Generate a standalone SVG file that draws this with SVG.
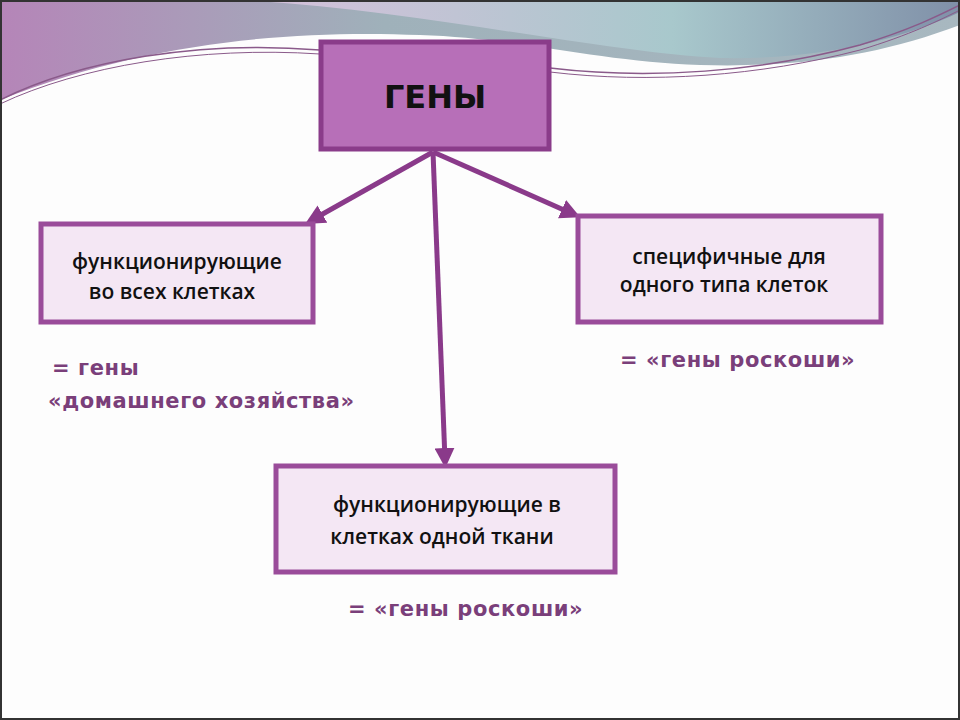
<svg xmlns="http://www.w3.org/2000/svg" width="960" height="720" viewBox="0 0 960 720">
<defs>
<linearGradient id="g1" x1="0" y1="0" x2="1" y2="0"><stop offset="0" stop-color="#b585b8"/><stop offset="0.4" stop-color="#9fb1ba"/><stop offset="1" stop-color="#a8b8c0"/></linearGradient>
<linearGradient id="g2" x1="0" y1="0" x2="1" y2="0"><stop offset="0" stop-color="#d8c0dc"/><stop offset="0.6" stop-color="#a8c8cc"/><stop offset="1" stop-color="#8090a8"/></linearGradient>
<marker id="ah" viewBox="0 0 10 10" refX="6" refY="5" markerWidth="4" markerHeight="4" orient="auto"><path d="M0,0 L10,5 L0,10 Z" fill="#8a3a8a"/></marker>
<style>
.box{fill:#f4e7f4;stroke:#9a4c9a;stroke-width:5}
.t{font-family:"Open Sans","DejaVu Sans",sans-serif;font-size:21px;font-weight:600;fill:#111}
.lbl{font-family:"DejaVu Sans",sans-serif;font-size:21px;font-weight:bold;fill:#7a3f7a;letter-spacing:0.6px}
.conn{stroke:#8a3a8a;stroke-width:5;fill:none;marker-end:url(#ah)}
</style>
</defs>
<rect width="960" height="720" fill="#fdfdfd"/>
<path d="M0,0 H960 V25 C880,55 800,68 700,65 C600,62 520,38 420,35 C300,30 150,40 0,100 Z" fill="url(#g1)"/>
<path d="M240,0 H960 V12 C900,40 820,60 720,58 C600,52 420,10 240,0 Z" fill="url(#g2)"/>
<path d="M0,100 C80,60 200,40 320,50 M550,68 C650,80 760,72 860,45 C910,30 940,15 960,5" stroke="#8a5a8a" stroke-width="1.5" fill="none"/>
<path d="M0,104 C80,66 200,46 320,54 M550,72 C650,84 760,76 860,50 C910,35 940,20 960,10" stroke="#8a5a8a" stroke-width="1" fill="none"/>
<rect x="1" y="1" width="958" height="718" fill="none" stroke="#333" stroke-width="2"/>
<g id="connectors">
<line class="conn" x1="433" y1="152" x2="312" y2="220"/>
<line class="conn" x1="433" y1="152" x2="573" y2="214"/>
<line class="conn" x1="433" y1="152" x2="445" y2="460"/>
</g>
<g id="n-genes">
<rect x="321" y="42" width="228" height="107" fill="#b76fb8" stroke="#8a3c8a" stroke-width="5"/>
<text x="435" y="108" text-anchor="middle" font-family="DejaVu Sans,sans-serif" font-size="32" font-weight="bold" fill="#111">ГЕНЫ</text>
</g>
<g id="n-left">
<rect class="box" x="41" y="224" width="272" height="98"/>
<text class="t" x="177" y="269" text-anchor="middle">функционирующие</text>
<text class="t" x="172" y="299" text-anchor="middle">во всех клетках</text>
</g>
<g id="n-right">
<rect class="box" x="578" y="216" width="303" height="106"/>
<text class="t" x="729" y="264" text-anchor="middle" font-size="19">специфичные для</text>
<text class="t" x="724" y="292" text-anchor="middle" font-size="19">одного типа клеток</text>
</g>
<g id="n-bottom">
<rect class="box" x="276" y="466" width="339" height="106"/>
<text class="t" x="447" y="512" text-anchor="middle">функционирующие в</text>
<text class="t" x="442" y="544" text-anchor="middle">клетках одной ткани</text>
</g>
<g id="labels">
<text class="lbl" x="52" y="375">= гены</text>
<text class="lbl" x="48" y="408">«домашнего хозяйства»</text>
<text class="lbl" x="620" y="367">= «гены роскоши»</text>
<text class="lbl" x="348" y="616">= «гены роскоши»</text>
</g>
</svg>
